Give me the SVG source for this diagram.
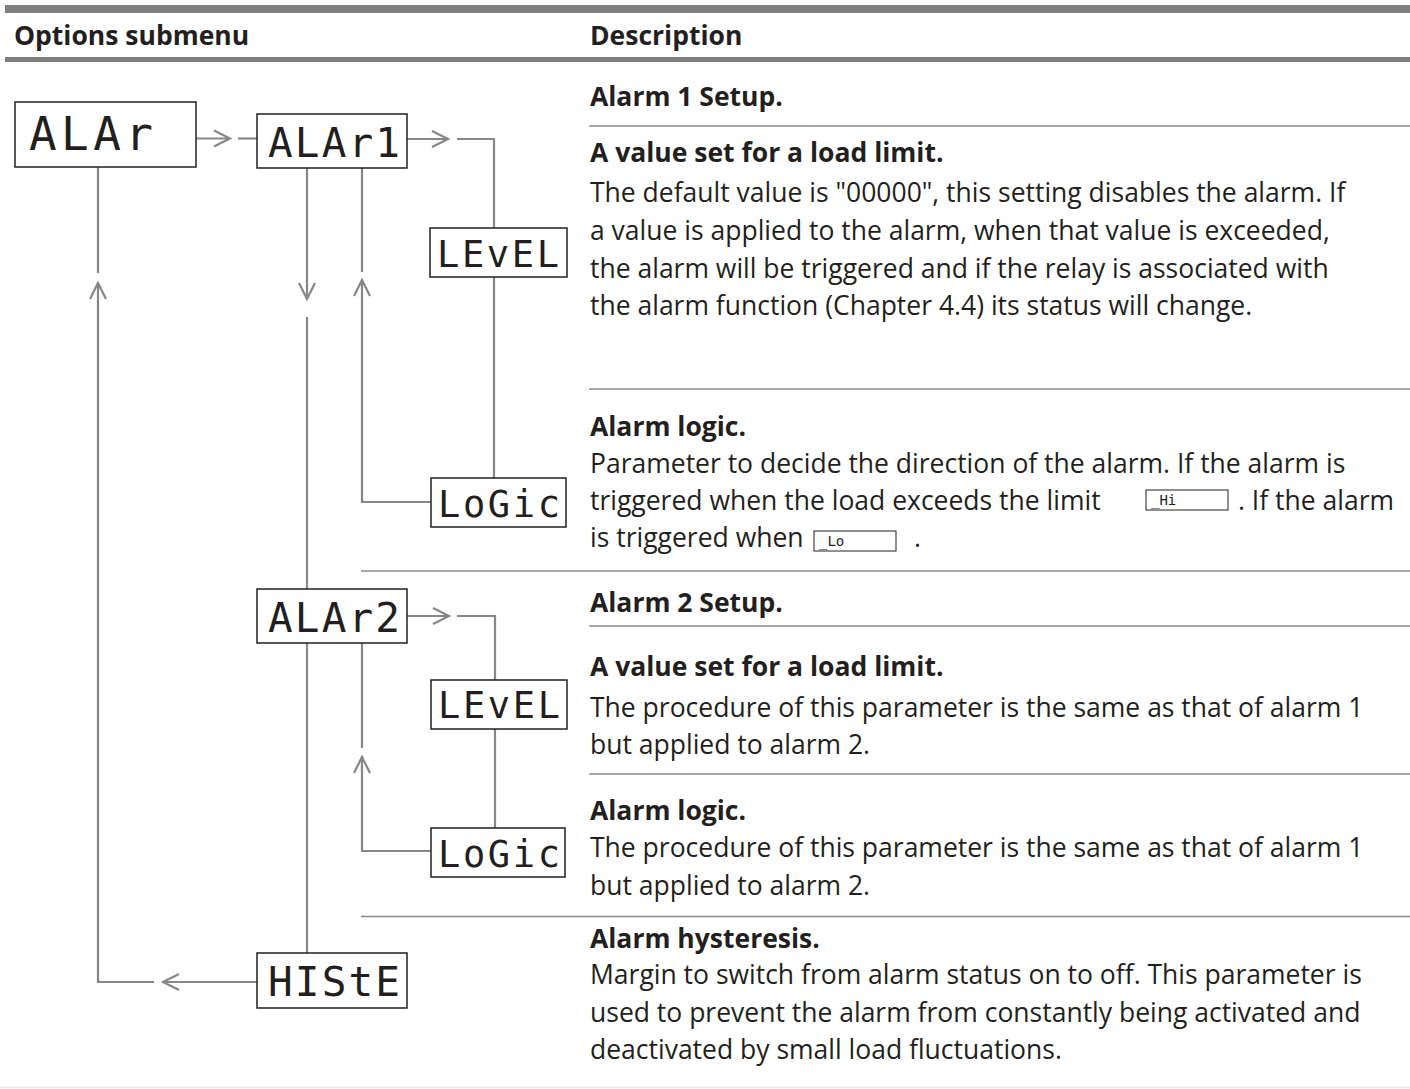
<svg xmlns="http://www.w3.org/2000/svg" width="1410" height="1089" viewBox="0 0 1410 1089">
<defs>
<style>
.t{font-family:"Open Sans","Noto Sans","Liberation Sans",sans-serif;font-size:26.5px;fill:#231f20}
.b{font-weight:bold}
.seg{font-family:"DejaVu Sans Mono","Liberation Mono",monospace;fill:#231f20}
.box{fill:#fff;stroke:#231f20;stroke-width:1.5}
.ibox{fill:#fff;stroke:#231f20;stroke-width:1}
.sep{stroke:#8a8a8a;stroke-width:1.5;fill:none}
.con{stroke:#878787;stroke-width:2.2;fill:none}
</style>
<marker id="chev" markerUnits="userSpaceOnUse" markerWidth="24" markerHeight="24" viewBox="-20 -12 24 24" refX="0" refY="0" orient="auto">
<path d="M-16,-8 L0,0 L-16,8" fill="none" stroke="#878787" stroke-width="2.2"/>
</marker>
</defs>
<rect width="1410" height="1089" fill="#fff"/>

<g id="table">
<rect x="5" y="5" width="1405" height="8" fill="#808080"/>
<rect x="5" y="57" width="1405" height="5" fill="#808080"/>
<text class="t b" x="14" y="45">Options submenu</text>
<text class="t b" x="590" y="45">Description</text>
<line class="sep" x1="589" y1="126" x2="1410" y2="126"/>
<line class="sep" x1="589" y1="389" x2="1410" y2="389"/>
<line class="sep" x1="361" y1="571" x2="1410" y2="571"/>
<line class="sep" x1="589" y1="626" x2="1410" y2="626"/>
<line class="sep" x1="589" y1="774" x2="1410" y2="774"/>
<line class="sep" x1="361" y1="916.5" x2="1410" y2="916.5"/>
<line x1="0" y1="1087.5" x2="1410" y2="1087.5" stroke="#e8e8e8" stroke-width="1.5"/>
</g>

<g id="descriptions">
<text class="t b" x="590" y="106">Alarm 1 Setup.</text>
<text class="t b" x="590" y="162">A value set for a load limit.</text>
<text class="t" x="590" y="202">The default value is "00000", this setting disables the alarm. If</text>
<text class="t" x="590" y="240">a value is applied to the alarm, when that value is exceeded,</text>
<text class="t" x="590" y="278">the alarm will be triggered and if the relay is associated with</text>
<text class="t" x="590" y="315">the alarm function (Chapter 4.4) its status will change.</text>
<text class="t b" x="590" y="436">Alarm logic.</text>
<text class="t" x="590" y="473">Parameter to decide the direction of the alarm. If the alarm is</text>
<text class="t" x="590" y="510">triggered when the load exceeds the limit</text>
<rect class="ibox" x="1146" y="490" width="82" height="20"/>
<text class="seg" x="1151" y="505" font-size="14">_Hi</text>
<text class="t" x="1238" y="510">. If the alarm</text>
<text class="t" x="590" y="547">is triggered when</text>
<rect class="ibox" x="814" y="531" width="82" height="20"/>
<text class="seg" x="819" y="546" font-size="14">_Lo</text>
<text class="t" x="914" y="547">.</text>
<text class="t b" x="590" y="612">Alarm 2 Setup.</text>
<text class="t b" x="590" y="676">A value set for a load limit.</text>
<text class="t" x="590" y="717">The procedure of this parameter is the same as that of alarm 1</text>
<text class="t" x="590" y="754">but applied to alarm 2.</text>
<text class="t b" x="590" y="820">Alarm logic.</text>
<text class="t" x="590" y="857">The procedure of this parameter is the same as that of alarm 1</text>
<text class="t" x="590" y="895">but applied to alarm 2.</text>
<text class="t b" x="590" y="948">Alarm hysteresis.</text>
<text class="t" x="590" y="984">Margin to switch from alarm status on to off. This parameter is</text>
<text class="t" x="590" y="1022">used to prevent the alarm from constantly being activated and</text>
<text class="t" x="590" y="1059">deactivated by small load fluctuations.</text>
</g>

<g id="connectors">
<path class="con" d="M196,138.5 H230" marker-end="url(#chev)"/>
<path class="con" d="M238,138.5 H257"/>
<path class="con" d="M407,139 H448" marker-end="url(#chev)"/>
<path class="con" d="M457,139 H494 V228"/>
<path class="con" d="M494,277 V478"/>
<path class="con" d="M431,502 H362 V280" marker-end="url(#chev)"/>
<path class="con" d="M362,272 V168"/>
<path class="con" d="M307,168 V299" marker-end="url(#chev)"/>
<path class="con" d="M307,317 V589"/>
<path class="con" d="M407,616 H449" marker-end="url(#chev)"/>
<path class="con" d="M457,616 H495 V680"/>
<path class="con" d="M495,729 V828"/>
<path class="con" d="M431,851 H362 V757" marker-end="url(#chev)"/>
<path class="con" d="M362,748 V643"/>
<path class="con" d="M307,643 V953"/>
<path class="con" d="M257,982 H163" marker-end="url(#chev)"/>
<path class="con" d="M154,982 H98 V283" marker-end="url(#chev)"/>
<path class="con" d="M98,273 V167"/>
</g>

<g id="node-alar">
<rect class="box" x="15" y="102" width="181" height="65"/>
<text class="seg" x="29" y="150" font-size="46" textLength="124" lengthAdjust="spacing">ALAr</text>
</g>
<g id="node-alar1">
<rect class="box" x="257" y="114" width="150" height="54"/>
<text class="seg" x="268" y="157" font-size="41" textLength="132" lengthAdjust="spacing">ALAr1</text>
</g>
<g id="node-level1">
<rect class="box" x="430" y="228" width="137" height="49"/>
<text class="seg" x="437" y="267" font-size="37" textLength="122" lengthAdjust="spacing">LEvEL</text>
</g>
<g id="node-logic1">
<rect class="box" x="431" y="478" width="135" height="49"/>
<text class="seg" x="438" y="517" font-size="37" textLength="122" lengthAdjust="spacing">LoGic</text>
</g>
<g id="node-alar2">
<rect class="box" x="257" y="589" width="150" height="54"/>
<text class="seg" x="268" y="632" font-size="41" textLength="132" lengthAdjust="spacing">ALAr2</text>
</g>
<g id="node-level2">
<rect class="box" x="431" y="680" width="136" height="49"/>
<text class="seg" x="438" y="718" font-size="37" textLength="122" lengthAdjust="spacing">LEvEL</text>
</g>
<g id="node-logic2">
<rect class="box" x="431" y="828" width="134" height="49"/>
<text class="seg" x="438" y="867" font-size="37" textLength="122" lengthAdjust="spacing">LoGic</text>
</g>
<g id="node-histe">
<rect class="box" x="257" y="953" width="150" height="55"/>
<text class="seg" x="268" y="996" font-size="41" textLength="132" lengthAdjust="spacing">HIStE</text>
</g>
</svg>
